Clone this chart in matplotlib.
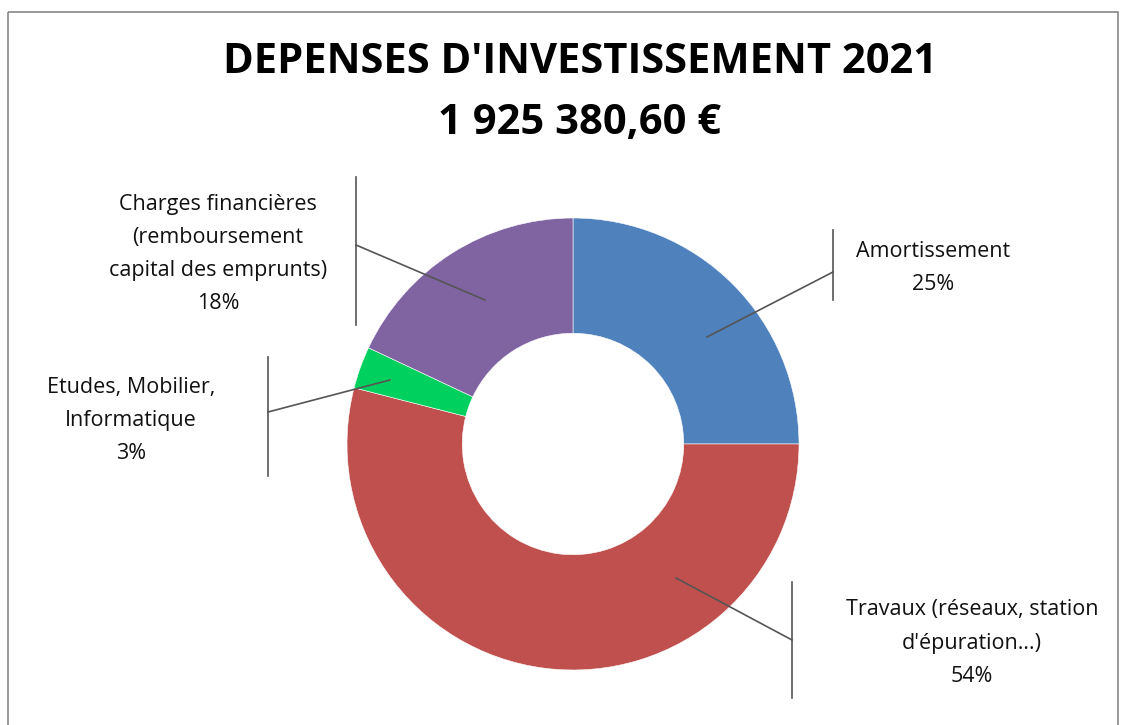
import matplotlib.pyplot as plt
from matplotlib.patches import Rectangle

# data
categories = ["Amortissement", "Travaux (réseaux, station\nd'épuration…)",
              "Etudes, Mobilier,\nInformatique",
              "Charges financières\n(remboursement\ncapital des emprunts)"]
values = [25, 54, 3, 18]
colors = ["#4F81BD", "#C0504D", "#00D05E", "#8064A2"]

W, H = 1123, 725
fig = plt.figure(figsize=(W / 100, H / 100), dpi=100)
plt.rcParams['font.family'] = ['Open Sans', 'DejaVu Sans']

# donut, center (573, 444) px, radius 226 px
cx, cy, r = 573, 444, 226
ax = fig.add_axes([(cx - r) / W, (H - cy - r) / H, 2 * r / W, 2 * r / H])
ax.pie(values, colors=colors, startangle=90, counterclock=False, radius=1,
       wedgeprops=dict(width=0.51, edgecolor="white", linewidth=0.4))
ax.set_xlim(-1, 1)
ax.set_ylim(-1, 1)
ax.set_aspect("equal")
ax.axis("off")

# overlay in pixel coords for labels and leaders
ov = fig.add_axes([0, 0, 1, 1], zorder=5)
ov.set_xlim(0, W)
ov.set_ylim(H, 0)
ov.axis("off")
ov.patch.set_alpha(0)

ov.add_patch(Rectangle((8, 12), 1110, 760, fill=False, edgecolor="#888888", lw=1.2))

ov.text(580, 62, "DEPENSES D'INVESTISSEMENT 2021", ha="center", va="center",
        fontsize=30, fontweight="bold")
ov.text(580, 123, "1 925 380,60 €", ha="center", va="center",
        fontsize=30, fontweight="bold")

# label text positions, vertical bar (x, y0, y1), leader line (x0,y0,x1,y1)
labels = [
    (933, 268, (833, 230, 300), (833, 272, 707, 337)),
    (972, 643, (792, 582, 698), (792, 640, 676, 578)),
    (131, 420, (268, 357, 476), (268, 412, 390, 380)),
    (218, 254, (356, 177, 325), (356, 245, 485, 300)),
]
for cat, val, (tx, ty, bar, lead) in zip(categories, values, labels):
    ov.text(tx, ty, f"{cat}\n{val}%", ha="center", va="center", fontsize=15.5,
            linespacing=1.75, color="#111111")
    ov.plot([bar[0], bar[0]], [bar[1], bar[2]], color="#555555", lw=1.2)
    ov.plot([lead[0], lead[2]], [lead[1], lead[3]], color="#555555", lw=1.2)

fig.savefig("out.png", dpi=100)
